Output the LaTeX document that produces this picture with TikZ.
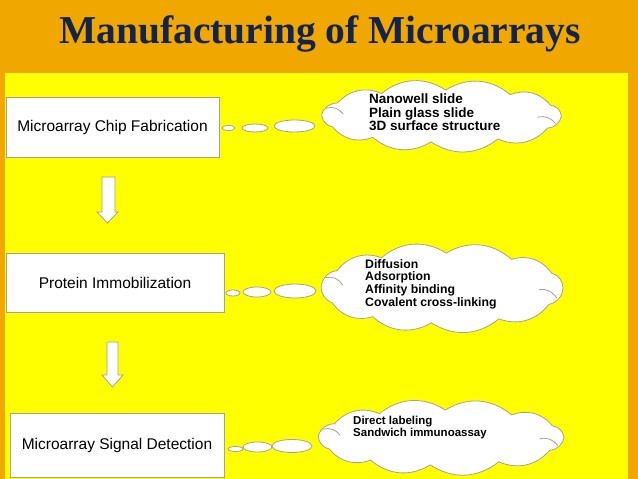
\documentclass[tikz,border=0pt]{standalone}
\usepackage{fontspec}
\setmainfont{Liberation Serif}
\newfontfamily\arialf{Liberation Sans}
\usetikzlibrary{shapes.geometric}
\definecolor{bgorange}{HTML}{F0A800}
\definecolor{slideyellow}{HTML}{FFFF00}
\definecolor{titlenavy}{HTML}{14234B}
\definecolor{edgegray}{HTML}{A8A090}
\newcommand\puffcloud[4]{%
  \draw[thoughtline] ({#1+#3*cos(0)},{#2+#4*sin(0)})
    \foreach \ang in {28,62,95,125,155,183,210,240,272,305,335,360} {
      to[bend left=36] ({#1+#3*cos(\ang)},{#2+#4*sin(\ang)}) } -- cycle;
  \draw[innerarc] ({#1+0.80*#3},{#2+0.05*#4}) to[bend left=35] ({#1+0.95*#3},{#2+0.30*#4});
  \draw[innerarc] ({#1-0.96*#3},{#2-0.30*#4}) to[bend left=35] ({#1-0.82*#3},{#2-0.08*#4});}
\begin{document}
\begin{tikzpicture}[x=1pt,y=-1pt,
 stepbox/.style={draw=edgegray, fill=white, line width=0.8pt, rectangle, inner sep=0pt, font=\arialf\fontsize{15.5}{18}\selectfont},
 bubble/.style={draw=edgegray, fill=white, line width=0.8pt, ellipse, inner sep=0pt},
 thoughtline/.style={draw=edgegray, fill=white, line width=0.8pt},
 innerarc/.style={draw=edgegray, line width=0.8pt},
 cloudtext/.style={align=left, anchor=north west, inner sep=0pt},
 blockarrow/.style={draw=edgegray, fill=white, line width=0.8pt, line join=miter},
 titlefont/.style={font=\bfseries\fontsize{39.5}{39.5}\selectfont, inner sep=0pt, anchor=base}
]
\fill[bgorange] (0,0) rectangle (638,479);
\fill[slideyellow] (5,73) rectangle (628,479);
\useasboundingbox (0,0) rectangle (638,479);

% title
\node[titlefont, text=titlenavy] (title) at (320,43) {Manufacturing of Microarrays};

% steps
\node[stepbox, minimum width=213, minimum height=60] (chip) at (112.5,127) {Microarray Chip Fabrication};
\node[stepbox, minimum width=218, minimum height=59] (immob) at (115,282.5) {Protein Immobilization};
\node[stepbox, minimum width=214, minimum height=64] (detect) at (117,445) {Microarray Signal Detection};

% block arrows
\coordinate (a1) at (108.5,177);
\draw[blockarrow] (a1) ++(-6.5,0) -- ++(13,0) -- ++(0,35) -- ++(3,0) -- ++(-10.5,11) -- ++(-10.5,-11) -- ++(5,0) -- cycle;
\coordinate (a2) at (112.5,342);
\draw[blockarrow] (a2) ++(-5.5,0) -- ++(11,0) -- ++(0,33) -- ++(5,0) -- ++(-10.5,12) -- ++(-10.5,-12) -- ++(5,0) -- cycle;

% clouds
\puffcloud{441.5}{116}{120}{26}
\puffcloud{442}{288}{121}{35}
\puffcloud{441}{437.5}{123}{27.5}

% bubbles
\node[bubble, minimum width=13, minimum height=5] (b1a) at (228.5,128) {};
\node[bubble, minimum width=26, minimum height=8] (b1b) at (255,128) {};
\node[bubble, minimum width=41, minimum height=12] (b1c) at (294.5,126) {};
\node[bubble, minimum width=14, minimum height=6] (b2a) at (233,293) {};
\node[bubble, minimum width=28, minimum height=10] (b2b) at (257,292) {};
\node[bubble, minimum width=42, minimum height=14] (b2c) at (295,291) {};
\node[bubble, minimum width=15, minimum height=5] (b3a) at (235.5,449) {};
\node[bubble, minimum width=29, minimum height=10] (b3b) at (257.5,447) {};
\node[bubble, minimum width=40, minimum height=13] (b3c) at (292,446) {};

% cloud texts
\node[cloudtext, font=\arialf\bfseries\fontsize{13.5}{13.5}\selectfont] (t1) at (369,94) {Nanowell slide\\Plain glass slide\\3D surface structure};
\node[cloudtext, font=\arialf\bfseries\fontsize{12.25}{12.7}\selectfont] (t2) at (365,259) {Diffusion\\Adsorption\\Affinity binding\\Covalent cross-linking};
\node[cloudtext, font=\arialf\bfseries\fontsize{11.5}{12.5}\selectfont] (t3) at (353,415.5) {Direct labeling\\Sandwich immunoassay};
\end{tikzpicture}
\end{document}
